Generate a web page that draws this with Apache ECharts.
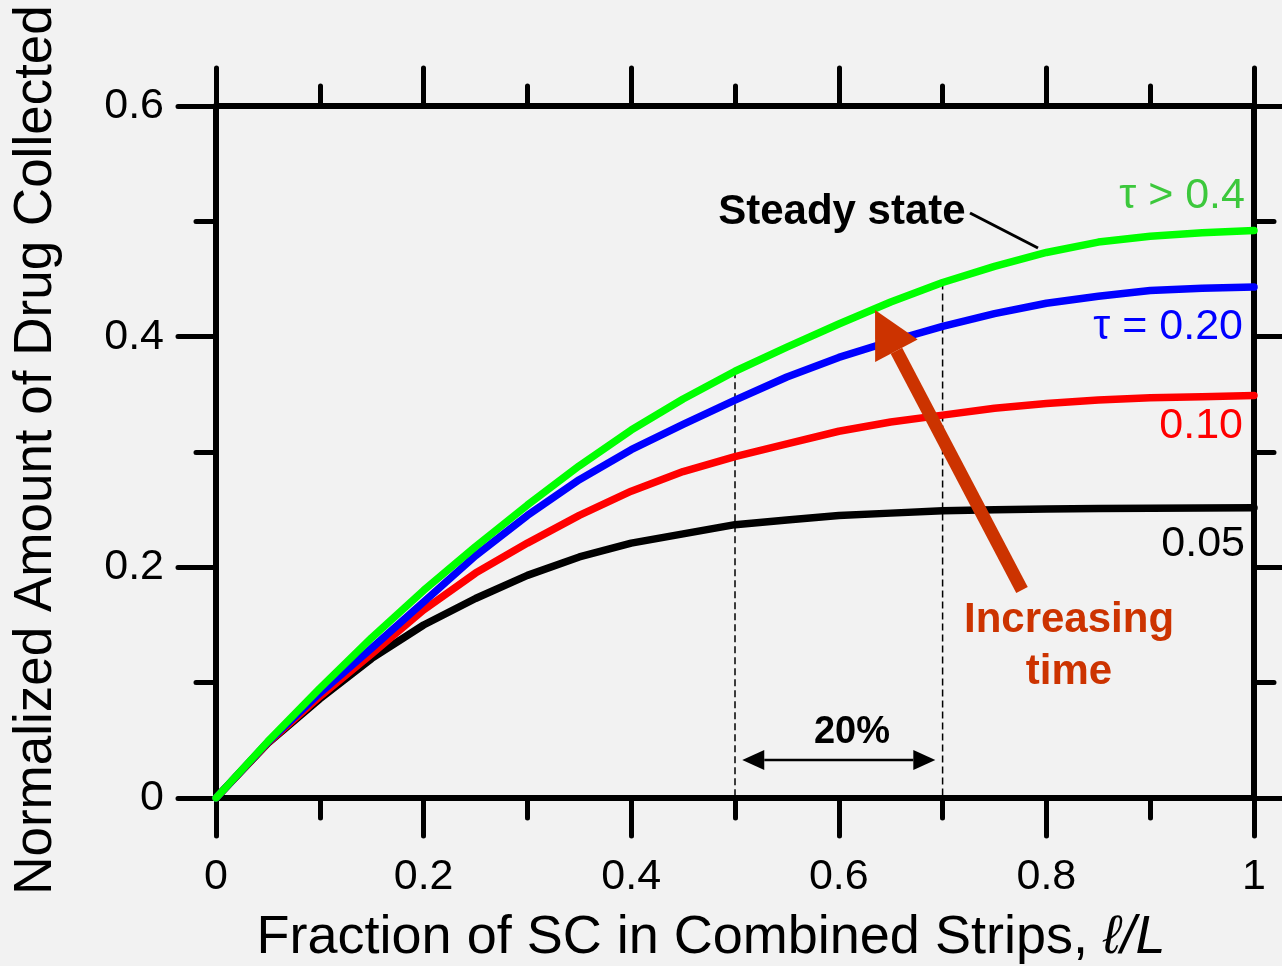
<!DOCTYPE html>
<html>
<head>
<meta charset="utf-8">
<script src="https://cdn.jsdelivr.net/npm/echarts@6/dist/echarts.min.js"></script>
<style>
html, body { margin: 0; padding: 0; background: #f2f2f2; }
#chart { width: 1282px; height: 966px; }
</style>
</head>
<body>
<div id="chart"></div>
<script>
// fraction of SC, l/L
var xs = [0, 0.05, 0.1, 0.15, 0.2, 0.25, 0.3, 0.35, 0.4, 0.45, 0.5, 0.55, 0.6, 0.65, 0.7, 0.75, 0.8, 0.85, 0.9, 0.95, 1];
// normalized amount collected
var steady = [0, 0.049, 0.095, 0.139, 0.180, 0.218, 0.254, 0.288, 0.319, 0.346, 0.370, 0.391, 0.411, 0.430, 0.447, 0.461, 0.473, 0.482, 0.487, 0.490, 0.492];
var tau020 = [0, 0.0485, 0.091, 0.130, 0.170, 0.210, 0.245, 0.276, 0.302, 0.324, 0.345, 0.365, 0.382, 0.396, 0.409, 0.420, 0.429, 0.435, 0.440, 0.442, 0.443];
var tau010 = [0, 0.048, 0.088, 0.125, 0.163, 0.195, 0.221, 0.245, 0.266, 0.283, 0.296, 0.307, 0.318, 0.326, 0.332, 0.338, 0.342, 0.345, 0.347, 0.348, 0.349];
var tau005 = [0, 0.0475, 0.086, 0.121, 0.150, 0.173, 0.193, 0.209, 0.221, 0.229, 0.237, 0.241, 0.245, 0.247, 0.249, 0.250, 0.2505, 0.251, 0.2513, 0.2515, 0.2517];

var curveNames = ['0.05', '0.10', '0.20', 'steady'];
var curveColors = ['#000000', '#ff0000', '#0000ff', '#00ff00'];
var xTicks = [0, 0.2, 0.4, 0.6, 0.8, 1];
var yTicks = [0, 0.2, 0.4, 0.6];
var spanX = [0.5, 0.7];   // the 20% window

var FONT = "'Liberation Sans', Arial, sans-serif";

function pairs(ys) {
    var out = [];
    for (var i = 0; i < xs.length; i++) out.push([xs[i], ys[i]]);
    return out;
}

function axisCommon(pos, showLabel, margin) {
    var vertical = pos === 'left' || pos === 'right';
    var ticks = vertical ? yTicks : xTicks;
    return {
        type: 'value',
        position: pos,
        min: ticks[0],
        max: ticks[ticks.length - 1],
        interval: 0.2,
        axisLine: { show: true, onZero: false, lineStyle: { color: '#000', width: 6 } },
        axisTick: { show: true, inside: false, length: 38, lineStyle: { color: '#000', width: 5, cap: 'round' } },
        minorTick: { show: true, splitNumber: 2, length: 20, lineStyle: { color: '#000', width: 5, cap: 'round' } },
        splitLine: { show: false },
        minorSplitLine: { show: false },
        axisLabel: { show: showLabel, color: '#000', fontSize: 43, fontFamily: FONT, margin: margin }
    };
}

var chart = echarts.init(document.getElementById('chart'));

var option = {
    backgroundColor: '#f2f2f2',
    animation: false,
    grid: { left: 216, right: 28, top: 106, bottom: 168 },
    xAxis: [axisCommon('bottom', true, 58), axisCommon('top', false, 8)],
    yAxis: [axisCommon('left', true, 52), axisCommon('right', false, 8)],
    series: [tau005, tau010, tau020, steady].map(function (ys, i) {
        return {
            name: curveNames[i],
            type: 'line',
            data: pairs(ys),
            showSymbol: false,
            z: 3 + i,
            lineStyle: { color: curveColors[i], width: 7.5, cap: 'round', join: 'round' }
        };
    })
};
chart.setOption(option);

/* annotations, placed in data coordinates */
function px(x, y) { return chart.convertToPixel({ gridIndex: 0 }, [x, y]); }

function label(x, y, text, color, size, bold, align) {
    var p = px(x, y);
    return {
        type: 'text', x: p[0], y: p[1], z: 100,
        style: {
            text: text, fill: color, font: (bold ? 'bold ' : '') + size + 'px ' + FONT,
            align: align || 'center', verticalAlign: 'middle'
        }
    };
}

function arrowHead(tip, from, len, half, color) {
    var dx = tip[0] - from[0], dy = tip[1] - from[1];
    var d = Math.sqrt(dx * dx + dy * dy);
    var ux = dx / d, uy = dy / d;
    var bx = tip[0] - ux * len, by = tip[1] - uy * len;
    return {
        base: [bx, by],
        shape: {
            type: 'polygon', z: 100,
            shape: { points: [tip, [bx - uy * half, by + ux * half], [bx + uy * half, by - ux * half]] },
            style: { fill: color }
        }
    };
}

var g = [];

// dashed guides from the steady-state curve down to the axis
spanX.forEach(function (x) {
    var top = px(x, steady[xs.indexOf(x)]), bot = px(x, 0);
    g.push({
        type: 'line', z: 1,
        shape: { x1: top[0], y1: top[1], x2: bot[0], y2: bot[1] },
        style: { stroke: '#000', lineWidth: 1.5, lineDash: [7, 4] }
    });
});

// 20% double arrow
var a1 = px(0.507, 0.033), a2 = px(0.693, 0.033);
var hL = arrowHead(a1, a2, 22, 10, '#000'), hR = arrowHead(a2, a1, 22, 10, '#000');
g.push({ type: 'line', z: 100, shape: { x1: hL.base[0], y1: a1[1], x2: hR.base[0], y2: a2[1] }, style: { stroke: '#000', lineWidth: 2.5 } });
g.push(hL.shape, hR.shape);
g.push(label(0.6127, 0.0564, '20%', '#000', 38, true));

// steady state label + leader
g.push(label(0.603, 0.508, 'Steady state', '#000', 42, true));
var l1 = px(0.7264, 0.5072), l2 = px(0.7919, 0.4769);
g.push({ type: 'line', z: 100, shape: { x1: l1[0], y1: l1[1], x2: l2[0], y2: l2[1] }, style: { stroke: '#000', lineWidth: 3 } });

// curve labels
g.push(label(0.9913, 0.5220, '\u03c4 > 0.4', '#3cc83c', 43, false, 'right'));
g.push(label(0.9894, 0.4085, '\u03c4 = 0.20', '#0000ff', 43, false, 'right'));
g.push(label(0.9894, 0.3225, '0.10', '#ff0000', 43, false, 'right'));
g.push(label(0.9913, 0.2205, '0.05', '#000', 43, false, 'right'));

// increasing time arrow
var tail = px(0.7765, 0.1804), tip = px(0.6349, 0.4231);
var head = arrowHead(tip, tail, 46, 24, '#cc3300');
g.push({ type: 'line', z: 100, shape: { x1: tail[0], y1: tail[1], x2: head.base[0], y2: head.base[1] }, style: { stroke: '#cc3300', lineWidth: 13 } });
g.push(head.shape);
g.push(label(0.8218, 0.1543, 'Increasing', '#cc3300', 42, true));
g.push(label(0.8218, 0.1093, 'time', '#cc3300', 42, true));

// axis titles
g.push({
    type: 'text', x: 711, y: 938, z: 100,
    style: {
        text: '{n|Fraction of SC in Combined Strips, }{i|\u2113/L}',
        align: 'center', verticalAlign: 'middle',
        rich: {
            n: { fontSize: 54, fontFamily: FONT, fill: '#000' },
            i: { fontSize: 54, fontFamily: FONT, fontStyle: 'italic', fill: '#000' }
        }
    }
});
g.push({
    type: 'text', x: 36, y: 450, rotation: Math.PI / 2, z: 100,
    style: {
        text: 'Normalized Amount of Drug Collected', fill: '#000',
        font: '53px ' + FONT, align: 'center', verticalAlign: 'middle'
    }
});

chart.setOption({ graphic: g });
</script>
</body>
</html>
